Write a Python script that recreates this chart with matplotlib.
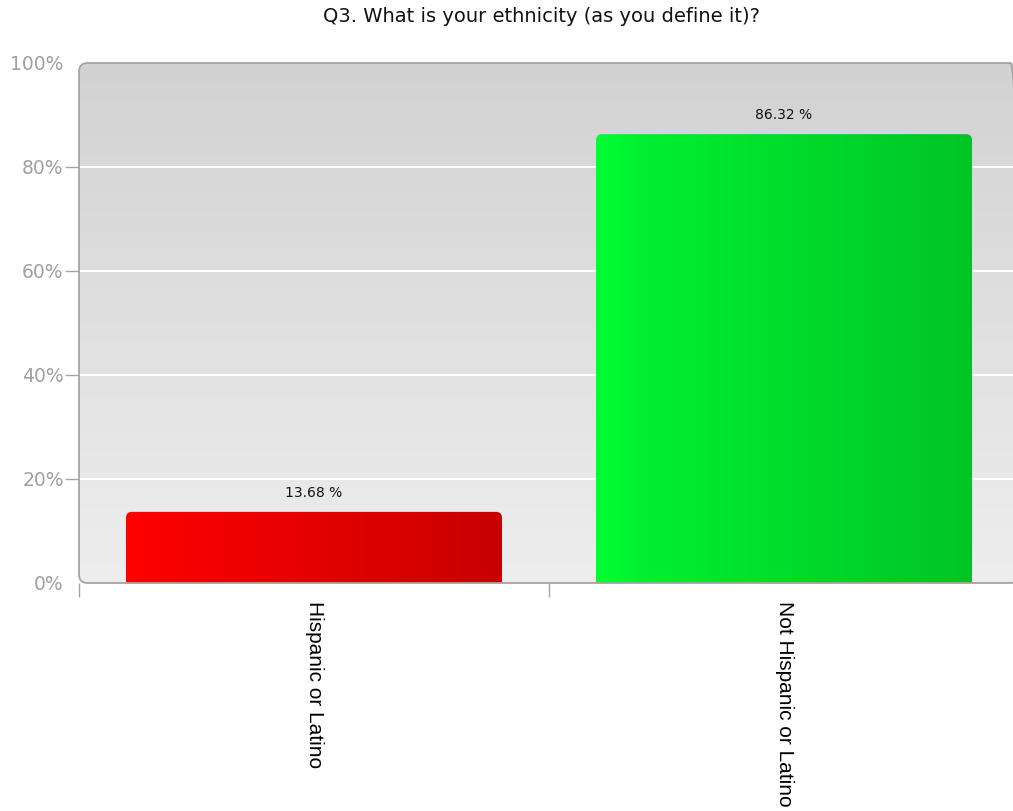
import numpy as np
import matplotlib.pyplot as plt
from matplotlib.patches import FancyBboxPatch
from matplotlib.colors import LinearSegmentedColormap

# data
title = "Q3. What is your ethnicity (as you define it)?"
categories = ["Hispanic or Latino", "Not Hispanic or Latino"]
percentages = [13.68, 86.32]
ytick_values = [0, 20, 40, 60, 80, 100]
ytick_labels = ["0%", "20%", "40%", "60%", "80%", "100%"]
bar_colors = [("#ff0000", "#f80000", "#c80000"), ("#00ff33", "#00f030", "#00c426")]

W, H = 1013, 811
left_px, right_px, top_px, bottom_px = 79, 1019, 63, 583
ax_w, ax_h = right_px - left_px, bottom_px - top_px

fig = plt.figure(figsize=(W / 100, H / 100), dpi=100)
ax = fig.add_axes([left_px / W, 1 - bottom_px / H, ax_w / W, ax_h / H])
for s in ax.spines.values():
    s.set_visible(False)

x = np.arange(len(categories)) + 0.5
px_per_x = ax_w / 2.0
px_per_y = ax_h / 100.0

# background with rounded frame
frame = FancyBboxPatch((0, 0), 1, 1, boxstyle="round,pad=0,rounding_size=0.009",
                       mutation_aspect=ax_w / ax_h, transform=ax.transAxes,
                       facecolor="none", edgecolor="#a4a4a4", lw=1.3,
                       clip_on=False, zorder=4)
ax.add_patch(frame)
bg_cmap = LinearSegmentedColormap.from_list("bg", ["#d2d2d2", "#eeeeee"])
bg = ax.imshow(np.linspace(0, 1, 256).reshape(-1, 1), cmap=bg_cmap, extent=(0, 1, 0, 1),
               transform=ax.transAxes, aspect="auto", zorder=0)
bg.set_clip_path(frame)

# gridlines
for v in ytick_values[1:-1]:
    ax.axhline(v, color="white", lw=1.5, zorder=1)

# bars
bars = ax.bar(x, percentages, width=0.8, color="none", edgecolor="none", zorder=2)
r = 6 / px_per_x
for rect, cols, v in zip(bars, bar_colors, percentages):
    x0, w, h = rect.get_x(), rect.get_width(), rect.get_height()
    clip = FancyBboxPatch((x0, -10), w, h + 10, boxstyle=f"round,pad=0,rounding_size={r}",
                          mutation_aspect=px_per_x / px_per_y, transform=ax.transData)
    cmap = LinearSegmentedColormap.from_list("g", [(0, cols[0]), (0.12, cols[1]), (1, cols[2])])
    im = ax.imshow(np.linspace(0, 1, 256).reshape(1, -1), cmap=cmap,
                   extent=(x0, x0 + w, 0, h), aspect="auto", zorder=2)
    im.set_clip_path(clip)
    ax.text(x0 + w / 2, h + 19 / px_per_y, f"{v:.2f} %", ha="center", va="center",
            fontsize=10, color="#111111", zorder=5)

ax.set_xlim(0, 2)
ax.set_ylim(0, 100)

# y axis
ax.set_yticks(ytick_values, ytick_labels)
ax.tick_params(axis="y", direction="out", length=10, width=1, color="#a4a4a4",
               labelcolor="#a0a0a0", labelsize=13.5, pad=1)
yt = ax.yaxis.get_major_ticks()
yt[0].tick1line.set_visible(False)
yt[-1].tick1line.set_visible(False)

# x axis
ax.set_xticks(x, categories, rotation=-90, fontsize=15, family="Liberation Sans")
ax.set_xticks([0, 1, 2], minor=True)
ax.tick_params(axis="x", which="major", length=0, pad=13)
ax.tick_params(axis="x", which="minor", direction="out", length=10, width=1, color="#a4a4a4")

fig.text(541 / W, 1 - 17 / H, title, ha="center", va="center", fontsize=14, color="#111111")

fig.savefig("out.png", dpi=100)
